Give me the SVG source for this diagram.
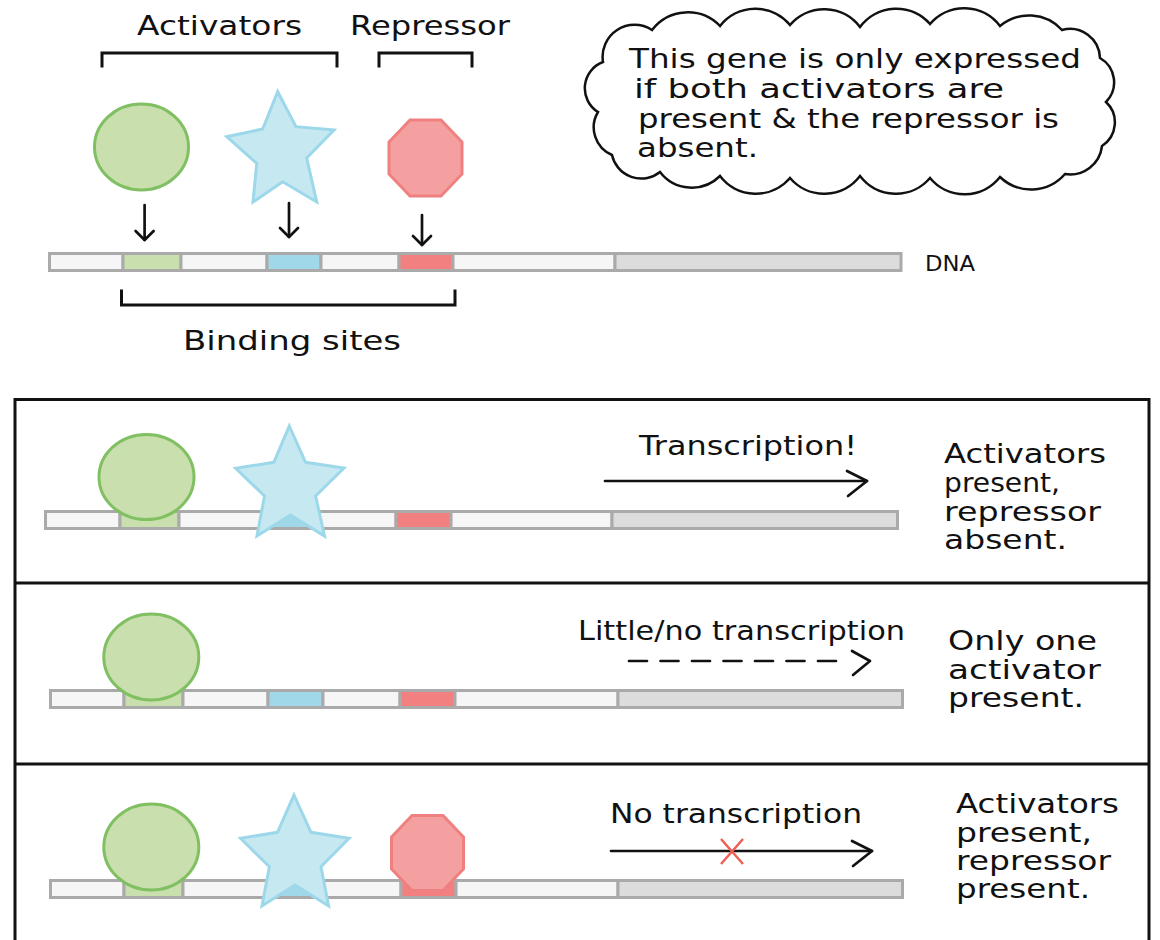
<svg xmlns="http://www.w3.org/2000/svg" width="1160" height="940" viewBox="0 0 1160 940">
<style>
.seg{stroke:#aaaaaa;stroke-width:3}
.w{fill:#f6f6f6}.g{fill:#c9dfae}.b{fill:#a0d8ea}.r{fill:#f28080}.k{fill:#dcdcdc}
.act1{fill:#c9dfae;stroke:#80c062;stroke-width:3}
.act2{fill:#c6e8f1;stroke:#9dd8ea;stroke-width:3}
.rep{fill:#f4a0a0;stroke:#f08080;stroke-width:3}
.txt{font-family:"DejaVu Sans","Liberation Sans",sans-serif;font-size:27px;fill:#111}
.small{font-size:22px}
.ln{stroke:#111;stroke-width:3;fill:none;stroke-linecap:square}
.arr{stroke:#111;stroke-width:2.7;fill:none;stroke-linecap:round;stroke-linejoin:round}
.frame{stroke:#111;stroke-width:3;fill:none}
</style>
<defs>
<marker id="dh" viewBox="-12 -12 14 24" refX="0" refY="0" markerWidth="14" markerHeight="24" markerUnits="userSpaceOnUse" orient="auto" overflow="visible">
<path d="M-9,-9 L0,0 L-9,9" fill="none" stroke="#111" stroke-width="2.7" stroke-linecap="round" stroke-linejoin="round"/>
</marker>
<marker id="ch" viewBox="-24 -18 26 36" refX="0" refY="0" markerWidth="26" markerHeight="36" markerUnits="userSpaceOnUse" orient="auto" overflow="visible">
<path d="M-20,-10 L0,0 L-19,15" fill="none" stroke="#111" stroke-width="2.7" stroke-linecap="round" stroke-linejoin="round"/>
</marker>
</defs>
<rect width="1160" height="940" fill="#ffffff"/>

<g id="label-activators">
<path class="ln" d="M102,66 V53 H337 V66"/>
<text class="txt" x="137" y="35" textLength="165" lengthAdjust="spacingAndGlyphs">Activators</text>
</g>
<g id="label-repressor">
<path class="ln" d="M379,66 V53 H472 V66"/>
<text class="txt" x="350" y="35" textLength="160" lengthAdjust="spacingAndGlyphs">Repressor</text>
</g>

<g id="note-cloud">
<path d="M603,62 A32,32 0 0 1 652,30 A45,45 0 0 1 720,26 A45,45 0 0 1 790,25 A45,45 0 0 1 860,27 A45,45 0 0 1 930,24 A45,45 0 0 1 1000,26 A45,45 0 0 1 1062,30 A30,30 0 0 1 1100,58 A28,28 0 0 1 1106,102 A28,28 0 0 1 1102,146 A32,32 0 0 1 1065,174 A45,45 0 0 1 1000,177 A45,45 0 0 1 930,178 A45,45 0 0 1 860,176 A45,45 0 0 1 790,178 A45,45 0 0 1 720,176 A40,40 0 0 1 660,172 A30,30 0 0 1 612,155 A30,30 0 0 1 598,112 A28,28 0 0 1 603,62 Z" fill="#ffffff" stroke="#111" stroke-width="2.5"/>
<text class="txt" x="629" y="68" textLength="452" lengthAdjust="spacingAndGlyphs">This gene is only expressed</text>
<text class="txt" x="634" y="98" textLength="370" lengthAdjust="spacingAndGlyphs">if both activators are</text>
<text class="txt" x="638" y="128" textLength="421" lengthAdjust="spacingAndGlyphs">present &amp; the repressor is</text>
<text class="txt" x="637" y="157" textLength="121" lengthAdjust="spacingAndGlyphs">absent.</text>
</g>

<g id="activator-1">
<ellipse class="act1" cx="141.5" cy="147" rx="47" ry="43"/>
</g>
<g id="activator-2">
<polygon class="act2" points="277.7,91.7 296,126.7 334,130 306.7,158 316.7,202 282.7,181.7 253,202 256.7,163.3 226.7,136.7 262.7,129"/>
</g>
<g id="repressor">
<polygon class="rep" points="410,120 441,120 462,142 462,174 441,196 410,196 389,174 389,142"/>
</g>

<g id="dna-top">
<rect class="seg w" x="49.5" y="253.5" width="73.5" height="17"/>
<rect class="seg g" x="123" y="253.5" width="58" height="17"/>
<rect class="seg w" x="181" y="253.5" width="86" height="17"/>
<rect class="seg b" x="267" y="253.5" width="54" height="17"/>
<rect class="seg w" x="321" y="253.5" width="78" height="17"/>
<rect class="seg r" x="399" y="253.5" width="54" height="17"/>
<rect class="seg w" x="453" y="253.5" width="162" height="17"/>
<rect class="seg k" x="615" y="253.5" width="286" height="17"/>
<text class="txt small" x="925" y="271" textLength="50" lengthAdjust="spacingAndGlyphs">DNA</text>
</g>

<g id="binding-sites">
<path class="ln" d="M121.5,291 V305 H455 V291"/>
<text class="txt" x="183" y="350" textLength="218" lengthAdjust="spacingAndGlyphs">Binding sites</text>
</g>

<g id="panels-frame">
<path class="frame" d="M15,945 V399.5 H1149 V945"/>
<path class="frame" d="M15,583 H1149"/>
<path class="frame" d="M15,764 H1149"/>
</g>

<g id="panel-1">
<rect class="seg w" x="45.5" y="511.5" width="74.5" height="17"/>
<rect class="seg g" x="120" y="511.5" width="59" height="17"/>
<rect class="seg w" x="179" y="511.5" width="84" height="17"/>
<rect class="seg b" x="263" y="511.5" width="55" height="17"/>
<rect class="seg w" x="318" y="511.5" width="78" height="17"/>
<rect class="seg r" x="396" y="511.5" width="55" height="17"/>
<rect class="seg w" x="451" y="511.5" width="161" height="17"/>
<rect class="seg k" x="612" y="511.5" width="285.5" height="17"/>
<ellipse class="act1" cx="146.5" cy="477" rx="47.5" ry="42.5"/>
<polygon class="act2" points="289.3,426 305.6,462.3 344,468 315.6,496 324.5,536 290.5,515 257,536 264.5,496 235.7,468.3 273.8,462.3"/>
<text class="txt" x="639" y="455" textLength="218" lengthAdjust="spacingAndGlyphs">Transcription!</text>
<text class="txt" x="944" y="463" textLength="162" lengthAdjust="spacingAndGlyphs">Activators</text>
<text class="txt" x="944" y="492" textLength="116" lengthAdjust="spacingAndGlyphs">present,</text>
<text class="txt" x="944" y="521" textLength="157" lengthAdjust="spacingAndGlyphs">repressor</text>
<text class="txt" x="944" y="549" textLength="123" lengthAdjust="spacingAndGlyphs">absent.</text>
</g>

<g id="panel-2">
<rect class="seg w" x="50.5" y="690.5" width="73.5" height="17"/>
<rect class="seg g" x="124" y="690.5" width="59" height="17"/>
<rect class="seg w" x="183" y="690.5" width="85" height="17"/>
<rect class="seg b" x="268" y="690.5" width="55" height="17"/>
<rect class="seg w" x="323" y="690.5" width="77" height="17"/>
<rect class="seg r" x="400" y="690.5" width="55" height="17"/>
<rect class="seg w" x="455" y="690.5" width="163" height="17"/>
<rect class="seg k" x="618" y="690.5" width="284.5" height="17"/>
<ellipse class="act1" cx="151.3" cy="657" rx="47.5" ry="43"/>
<text class="txt" x="578" y="640" textLength="327" lengthAdjust="spacingAndGlyphs">Little/no transcription</text>
<text class="txt" x="948" y="650" textLength="149" lengthAdjust="spacingAndGlyphs">Only one</text>
<text class="txt" x="948" y="679" textLength="153" lengthAdjust="spacingAndGlyphs">activator</text>
<text class="txt" x="948" y="707" textLength="136" lengthAdjust="spacingAndGlyphs">present.</text>
</g>

<g id="panel-3">
<rect class="seg w" x="50.5" y="880.5" width="73.5" height="17"/>
<rect class="seg g" x="124" y="880.5" width="59" height="17"/>
<rect class="seg w" x="183" y="880.5" width="85" height="17"/>
<rect class="seg b" x="268" y="880.5" width="55" height="17"/>
<rect class="seg w" x="323" y="880.5" width="78" height="17"/>
<rect class="seg r" x="401" y="880.5" width="55" height="17"/>
<rect class="seg w" x="456" y="880.5" width="162" height="17"/>
<rect class="seg k" x="618" y="880.5" width="284.5" height="17"/>
<ellipse class="act1" cx="151.3" cy="847" rx="47.5" ry="43"/>
<polygon class="act2" points="294,795 311,832.3 349,838.3 321,866.7 328.6,906 295,885 262,906 269.4,866.7 240.5,838.3 277.5,832.3"/>
<polygon class="rep" points="412,815.5 443,815.5 463.5,837 463.5,869 443,890.5 412,890.5 391.5,869 391.5,837"/>
<text class="txt" x="610" y="823" textLength="252" lengthAdjust="spacingAndGlyphs">No transcription</text>
<text class="txt" x="956" y="813" textLength="163" lengthAdjust="spacingAndGlyphs">Activators</text>
<text class="txt" x="956" y="842" textLength="136" lengthAdjust="spacingAndGlyphs">present,</text>
<text class="txt" x="956" y="870" textLength="155" lengthAdjust="spacingAndGlyphs">repressor</text>
<text class="txt" x="956" y="898" textLength="134" lengthAdjust="spacingAndGlyphs">present.</text>
</g>

<g id="connectors">
<path class="arr" d="M144.6,205 V240" marker-end="url(#dh)"/>
<path class="arr" d="M289,203 V237" marker-end="url(#dh)"/>
<path class="arr" d="M422,215 V245" marker-end="url(#dh)"/>
<path class="arr" d="M605,481 H867" marker-end="url(#ch)"/>
<path class="arr" d="M629,661 H838" stroke-dasharray="18 13.5" stroke-linecap="butt"/>
<path class="arr" d="M852,651 L870,661 L853,675"/>
<path class="arr" d="M611,851 H872" marker-end="url(#ch)"/>
<path d="M721,839 L743,864 M743,839 L721,864" stroke="#f05f55" stroke-width="2.5" fill="none"/>
</g>
</svg>
